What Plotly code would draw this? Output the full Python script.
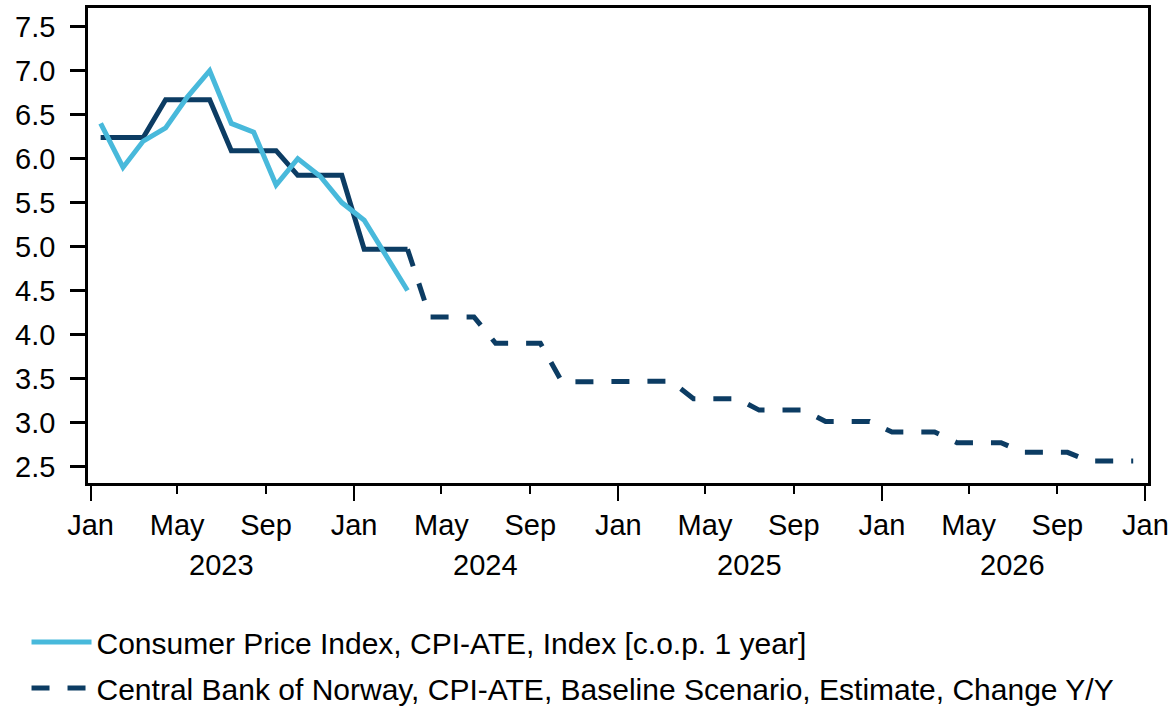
import plotly.graph_objects as go

# ---- data ----
cpi_dates = ["2023-01-15", "2023-02-15", "2023-03-15", "2023-04-15", "2023-05-15",
             "2023-06-15", "2023-07-15", "2023-08-15", "2023-09-15", "2023-10-15",
             "2023-11-15", "2023-12-15", "2024-01-15", "2024-02-15", "2024-03-15"]
cpi_values = [6.4, 5.9, 6.2, 6.35, 6.7, 7.0, 6.4, 6.3, 5.7, 6.0, 5.8, 5.5, 5.3, 4.9, 4.5]

cb_hist_dates = cpi_dates
cb_hist_values = [6.24, 6.24, 6.24, 6.67, 6.67, 6.67, 6.09, 6.09, 6.09,
                  5.81, 5.81, 5.81, 4.97, 4.97, 4.97]

cb_fc_dates = ["2024-03-15", "2024-04-15", "2024-05-15", "2024-06-15", "2024-07-15",
               "2024-08-15", "2024-09-15", "2024-10-15", "2024-11-15", "2024-12-15",
               "2025-01-15", "2025-02-15", "2025-03-15", "2025-04-15", "2025-05-15",
               "2025-06-15", "2025-07-15", "2025-08-15", "2025-09-15", "2025-10-15",
               "2025-11-15", "2025-12-15", "2026-01-15", "2026-02-15", "2026-03-15",
               "2026-04-15", "2026-05-15", "2026-06-15", "2026-07-15", "2026-08-15",
               "2026-09-15", "2026-10-15", "2026-11-15", "2026-12-15"]
cb_fc_values = [4.97, 4.20, 4.20, 4.20, 3.90, 3.90, 3.90, 3.46, 3.46, 3.46,
                3.47, 3.47, 3.47, 3.27, 3.27, 3.27, 3.14, 3.14, 3.14, 3.01,
                3.01, 3.01, 2.89, 2.89, 2.89, 2.77, 2.77, 2.77, 2.66, 2.66,
                2.66, 2.56, 2.56, 2.56]

year_labels = ["2023", "2024", "2025", "2026"]
year_centers = ["2023-07-01", "2024-07-01", "2025-07-01", "2026-07-01"]

cpi_name = "Consumer Price Index, CPI-ATE, Index [c.o.p. 1 year]"
cb_name = "Central Bank of Norway, CPI-ATE, Baseline Scenario, Estimate, Change Y/Y"

LIGHT = "#48B9DB"
DARK = "#0C3C63"
FONT = "Liberation Sans, Arial, sans-serif"
TICK_SIZE = 29
LEG_SIZE = 30

fig = go.Figure()
fig.add_trace(go.Scatter(x=cb_hist_dates, y=cb_hist_values, mode="lines",
                         line=dict(color=DARK, width=5), name=cb_name,
                         legendgroup="cb", showlegend=False))
fig.add_trace(go.Scatter(x=cb_fc_dates, y=cb_fc_values, mode="lines",
                         line=dict(color=DARK, width=5, dash="18px,18px"),
                         name=cb_name, legendgroup="cb", legendrank=2))
fig.add_trace(go.Scatter(x=cpi_dates, y=cpi_values, mode="lines",
                         line=dict(color=LIGHT, width=5), name=cpi_name,
                         legendgroup="cpi", legendrank=1))
# invisible trace to carry the long January ticks on an overlay axis
fig.add_trace(go.Scatter(x=[cpi_dates[0]], y=[cpi_values[0]], xaxis="x2",
                         mode="lines", showlegend=False, hoverinfo="skip",
                         line=dict(width=0), opacity=0))

xrange = ["2022-12-28 12:00", "2027-01-04 12:00"]

fig.update_layout(
    width=1176, height=709,
    margin=dict(l=87.5, r=27.5, t=8, b=225.7, autoexpand=False),
    paper_bgcolor="white", plot_bgcolor="white",
    font=dict(family=FONT, size=TICK_SIZE, color="black"),
    showlegend=True,
    legend=dict(x=-0.058, xanchor="left", y=-0.28, yanchor="top",
                orientation="v", font=dict(size=LEG_SIZE), itemwidth=60,
                bgcolor="rgba(0,0,0,0)", tracegroupgap=4),
    xaxis=dict(type="date", range=xrange, tick0="2023-01-01", dtick="M4",
               tickformat="%b", ticks="outside", ticklen=8, tickwidth=2,
               tickcolor="black", showline=True, linecolor="black", linewidth=2.5,
               mirror=True, showgrid=False, zeroline=False,
               ticklabelstandoff=6, tickfont=dict(size=TICK_SIZE)),
    xaxis2=dict(type="date", range=xrange, overlaying="x", side="bottom",
                anchor="y", tick0="2023-01-01", dtick="M12", ticks="outside",
                ticklen=17, tickwidth=2, tickcolor="black", showticklabels=False,
                showline=False, showgrid=False, zeroline=False),
    yaxis=dict(range=[2.311, 7.713], tick0=2.5, dtick=0.5, tickformat=".1f",
               ticks="outside", ticklen=15, tickwidth=2.5, tickcolor="black",
               showline=True, linecolor="black", linewidth=2.5, mirror=True,
               showgrid=False, zeroline=False, ticklabelstandoff=9,
               tickfont=dict(size=TICK_SIZE)),
)

for lbl, xc in zip(year_labels, year_centers):
    fig.add_annotation(x=xc, xref="x", y=0, yref="paper", yanchor="middle",
                       yshift=-82, text=lbl, showarrow=False,
                       font=dict(size=TICK_SIZE, family=FONT, color="black"))

fig.write_html("out.html",
               config={"displayModeBar": False},
               post_script="document.body.style.margin='0';"
                           "document.body.style.overflow='hidden';")
